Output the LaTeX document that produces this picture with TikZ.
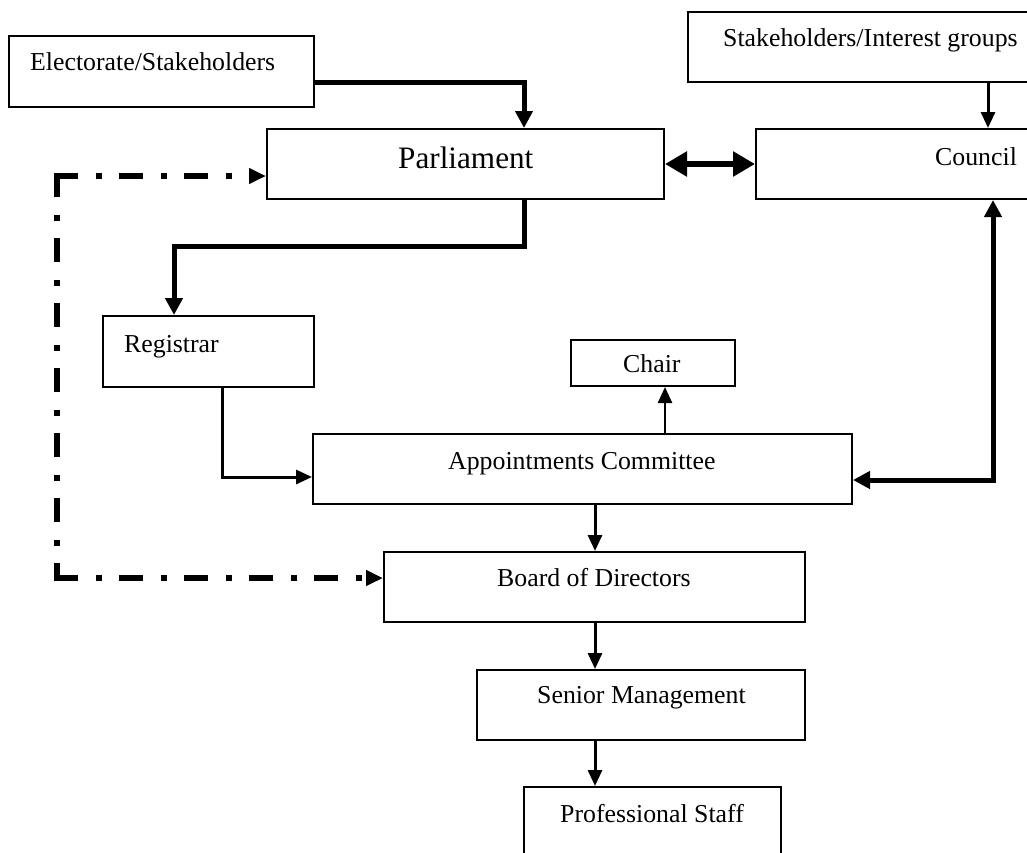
\documentclass[tikz,border=0pt]{standalone}
\usepackage{fontspec}
\setmainfont{Liberation Serif}
\usetikzlibrary{arrows.meta,fit}
\begin{document}
\begin{tikzpicture}[x=1pt,y=-1pt,
  box/.style={draw, line width=2pt, inner sep=0pt},
  lbl/.style={inner sep=0pt, anchor=base west, font=\fontsize{25.8}{30}\selectfont},
  biglbl/.style={lbl, font=\fontsize{31.2}{36}\selectfont},
  thinarrow/.style={line width=3pt, -{Triangle[length=16pt,width=14pt]}},
  heavyarrow/.style={line width=5pt, -{Triangle[length=17pt,width=17pt]}},
  heavyboth/.style={line width=5pt, {Triangle[length=17pt,width=17pt]}-{Triangle[length=17pt,width=17pt]}},
  widearrow/.style={line width=6.5pt, {Triangle[length=22pt,width=24pt]}-{Triangle[length=22pt,width=24pt]}},
  dashdot/.style={line width=6pt, line cap=rect, dash pattern=on 18pt off 23.5pt on 0.5pt off 23pt},
  dashtip/.style={-{Triangle[length=17pt,width=15pt]}},
]
\useasboundingbox (0,0) rectangle (1027,852);
\clip (0,0) rectangle (1027,852);

% boxes
\node[box, fit={(9,36) (314,107)}]    (elect)   {};
\node[box, fit={(688,12) (1120,82)}]  (stake)   {};
\node[box, fit={(267,129) (664,199)}] (parl)    {};
\node[box, fit={(756,129) (1220,199)}] (council) {};
\node[box, fit={(103,316) (314,387)}] (reg)     {};
\node[box, fit={(571,340) (735,386)}] (chair)   {};
\node[box, fit={(313,434) (852,504)}] (appt)    {};
\node[box, fit={(384,552) (805,622)}] (board)   {};
\node[box, fit={(477,670) (805,740)}] (senior)  {};
\node[box, fit={(524,787) (781,900)}] (staff)   {};

% labels
\node[lbl]    (electtxt)   at (30,70)   {Electorate/Stakeholders};
\node[lbl]    (staketxt)   at (723,46)  {Stakeholders/Interest groups};
\node[biglbl] (parltxt)    at (398,168) {Parliament};
\node[lbl]    (counciltxt) at (935,165) {Council};
\node[lbl]    (regtxt)     at (124,352) {Registrar};
\node[lbl]    (chairtxt)   at (623,372) {Chair};
\node[lbl]    (appttxt)    at (448,469) {Appointments Committee};
\node[lbl]    (boardtxt)   at (497,586) {Board of Directors};
\node[lbl]    (seniortxt)  at (537,703) {Senior Management};
\node[lbl]    (stafftxt)   at (560,822) {Professional Staff};

% bend points of the connectors
\coordinate (e1) at (524,82);
\coordinate (p1) at (524,246);
\coordinate (p2) at (174,246);
\coordinate (r1) at (222,477);
\coordinate (c1) at (665,0);
\coordinate (v1) at (595,0);
\coordinate (s1) at (988,0);
\coordinate (k1) at (993,480);
\coordinate (dt) at (57,176);
\coordinate (db) at (57,578);

% connectors
\draw[heavyarrow] (elect.east |- e1) -- (e1) -- (e1 |- parl.north);
\draw[thinarrow] (s1 |- stake.south) -- (s1 |- council.north);
\draw[widearrow] (parl.east) -- (council.west);
\draw[heavyarrow] (p1 |- parl.south) -- (p1) -- (p2) -- (p2 |- reg.north);
\draw[thinarrow] (r1 |- reg.south) -- (r1) -- (r1 -| appt.west);
\draw[thinarrow, line width=2.5pt] (c1 |- appt.north) -- (c1 |- chair.south);
\draw[heavyboth] (k1 -| appt.east) -- (k1) -- (k1 |- council.south);
\draw[thinarrow] (v1 |- appt.south) -- (v1 |- board.north);
\draw[thinarrow] (v1 |- board.south) -- (v1 |- senior.north);
\draw[thinarrow] (v1 |- senior.south) -- (v1 |- staff.north);

% dash-dotted link from Parliament round to the Board
\draw[dashdot, dashtip] (dt) -- (dt -| parl.west);
\draw[dashdot] (dt) -- (db);
\draw[dashdot, dashtip] (db) -- (db -| board.west);
\end{tikzpicture}
\end{document}
